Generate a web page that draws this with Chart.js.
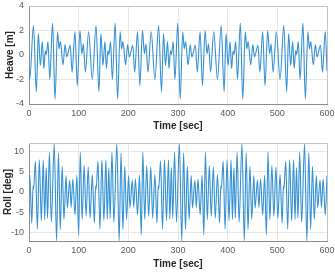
<!DOCTYPE html>
<html><head><meta charset="utf-8">
<script src="https://cdn.jsdelivr.net/npm/chart.js@4/dist/chart.umd.min.js"></script>
<style>
html,body{margin:0;padding:0;background:#fff;}
canvas{position:absolute;left:0;}
</style></head>
<body>
<canvas id="c1" width="335" height="138" style="top:0"></canvas>
<canvas id="c2" width="335" height="138" style="top:138px"></canvas>
<script>
const xTicks = [0,100,200,300,400,500,600];
const heaveTicks = [-4,-2,0,2,4];
const rollTicks = [-10,-5,0,5,10];

const heaveTime = [0,1.5,9,14.8,18.8,22.8,26.9,29.8,33,35,38.2,41.8,47.5,52.4,57.5,60.5,63.2,68.5,72.5,76,78.5,83,86.8,92.5,97.2,102.5,106.5,109.5,113.5,120,
127.5,135,140.8,144.8,148.8,152.9,155.8,159,161,164.2,167.8,173.5,178.4,183.5,186.5,189.2,194.5,198.5,202,204.5,209,212.8,218.5,223.2,228.5,232.5,235.5,239.5,246,
253.5,261,266.8,270.8,274.8,278.9,281.8,285,287,290.2,293.8,299.5,304.4,309.5,312.5,315.2,320.5,324.5,328,330.5,335,338.8,344.5,349.2,354.5,358.5,361.5,365.5,372,
379.5,387,392.8,396.8,400.8,404.9,407.8,411,413,416.2,419.8,425.5,430.4,435.5,438.5,441.2,446.5,450.5,454,456.5,461,464.8,470.5,475.2,480.5,484.5,487.5,491.5,498,
505.5,513,518.8,522.8,526.8,530.9,533.8,537,539,542.2,545.8,551.5,556.4,561.5,564.5,567.2,572.5,576.5,580,582.5,587,590.8,596.5,600];
const heaveValue = [-1.2,-2.0,2.4,-3.0,1.75,-0.85,1.1,-1.1,0.35,0.05,1.1,-2.0,2.6,-3.6,1.9,0.5,1.1,-0.8,0.85,-0.15,0.15,0.8,-1.4,1.9,-2.5,2.0,0.1,0.9,-1.4,1.9,
-2.0,2.4,-3.0,1.75,-0.85,1.1,-1.1,0.35,0.05,1.1,-2.0,2.6,-3.6,1.9,0.5,1.1,-0.8,0.85,-0.15,0.15,0.8,-1.4,1.9,-2.5,2.0,0.1,0.9,-1.4,1.9,
-2.0,2.4,-3.0,1.75,-0.85,1.1,-1.1,0.35,0.05,1.1,-2.0,2.6,-3.6,1.9,0.5,1.1,-0.8,0.85,-0.15,0.15,0.8,-1.4,1.9,-2.5,2.0,0.1,0.9,-1.4,1.9,
-2.0,2.4,-3.0,1.75,-0.85,1.1,-1.1,0.35,0.05,1.1,-2.0,2.6,-3.6,1.9,0.5,1.1,-0.8,0.85,-0.15,0.15,0.8,-1.4,1.9,-2.5,2.0,0.1,0.9,-1.4,1.9,
-2.0,2.4,-3.0,1.75,-0.85,1.1,-1.1,0.35,0.05,1.1,-2.0,2.6,-3.6,1.9,0.5,1.1,-0.8,0.85,-0.15,0.15,0.8,-1.4,1.9,-1.3];

const rollTime = [0,1.5,5.6,8.2,9.2,12.9,16.8,20.8,24.8,28.8,31.6,34.6,37.4,41,45,50.8,55.5,59.3,63,66.8,70.4,74.6,77.2,82,84.8,88.2,92.6,96.4,100,103.2,107,111,115,119.2,123,
127.5,131.6,134.2,135.2,138.9,142.8,146.8,150.8,154.8,157.6,160.6,163.4,167,171,176.8,181.5,185.3,189,192.8,196.4,200.6,203.2,208,210.8,214.2,218.6,222.4,226,229.2,233,237,241,245.2,249,
253.5,257.6,260.2,261.2,264.9,268.8,272.8,276.8,280.8,283.6,286.6,289.4,293,297,302.8,307.5,311.3,315,318.8,322.4,326.6,329.2,334,336.8,340.2,344.6,348.4,352,355.2,359,363,367,371.2,375,
379.5,383.6,386.2,387.2,390.9,394.8,398.8,402.8,406.8,409.6,412.6,415.4,419,423,428.8,433.5,437.3,441,444.8,448.4,452.6,455.2,460,462.8,466.2,470.6,474.4,478,481.2,485,489,493,497.2,501,
505.5,509.6,512.2,513.2,516.9,520.8,524.8,528.8,532.8,535.6,538.6,541.4,545,549,554.8,559.5,563.3,567,570.8,574.4,578.6,581.2,586,588.8,592.2,596.6,600];
const rollValue = [3.0,4.3,-7.6,1.5,0.7,7.6,-9.1,7.9,-7.0,7.9,-6.7,6.0,-6.4,9.7,-7.4,11.8,-11.9,9.6,-9.2,6.3,-6.7,4.0,-3.9,2.9,-3.8,3.2,-5.6,4.1,-10.5,9.8,-6.7,6.5,-5.9,6.1,-6.4,
4.3,-7.6,1.5,0.7,7.6,-9.1,7.9,-7.0,7.9,-6.7,6.0,-6.4,9.7,-7.4,11.8,-11.9,9.6,-9.2,6.3,-6.7,4.0,-3.9,2.9,-3.8,3.2,-5.6,4.1,-10.5,9.8,-6.7,6.5,-5.9,6.1,-6.4,
4.3,-7.6,1.5,0.7,7.6,-9.1,7.9,-7.0,7.9,-6.7,6.0,-6.4,9.7,-7.4,11.8,-11.9,9.6,-9.2,6.3,-6.7,4.0,-3.9,2.9,-3.8,3.2,-5.6,4.1,-10.5,9.8,-6.7,6.5,-5.9,6.1,-6.4,
4.3,-7.6,1.5,0.7,7.6,-9.1,7.9,-7.0,7.9,-6.7,6.0,-6.4,9.7,-7.4,11.8,-11.9,9.6,-9.2,6.3,-6.7,4.0,-3.9,2.9,-3.8,3.2,-5.6,4.1,-10.5,9.8,-6.7,6.5,-5.9,6.1,-6.4,
4.3,-7.6,1.5,0.7,7.6,-9.1,7.9,-7.0,7.9,-6.7,6.0,-6.4,9.7,-7.4,11.8,-11.9,9.6,-9.2,6.3,-6.7,4.0,-3.9,2.9,-3.8,3.2,-5.6,4.0];

const FONT = "'Liberation Sans', Arial, sans-serif";
const LINE = 'rgb(52,145,212)';
const TICK = '#5a5a5a';

const boxPlugin = {
  id:'box',
  afterDraw(chart){
    const {ctx, chartArea:a} = chart;
    ctx.save();
    ctx.strokeStyle = '#c4c4c4';
    ctx.lineWidth = 1;
    ctx.beginPath();
    ctx.moveTo(a.left, a.top+0.5); ctx.lineTo(a.right+0.5, a.top+0.5);
    ctx.lineTo(a.right+0.5, a.bottom);
    ctx.stroke();
    ctx.restore();
  }
};

function pts(t, v){ return t.map((x,i)=>({x:x, y:v[i]})); }

function makeChart(id, t, v, yMin, yMax, yTicks, yTitle, padTop, xH, titlePad){
  return new Chart(document.getElementById(id), {
    type:'line',
    data:{datasets:[{data:pts(t,v), borderColor:LINE, borderWidth:1.1, pointRadius:0, fill:false, cubicInterpolationMode:'monotone'}]},
    options:{
      responsive:false, animation:false, events:[],
      layout:{padding:{left:0,right:8,top:padTop,bottom:0}},
      plugins:{legend:{display:false}, tooltip:{enabled:false}},
      scales:{
        x:{type:'linear', min:0, max:600,
          afterBuildTicks(s){ s.ticks = xTicks.map(x=>({value:x})); },
          ticks:{color:TICK, font:{family:FONT, size:9}, padding:4, maxRotation:0, autoSkip:false},
          grid:{color:'#e6e6e6', drawTicks:false},
          border:{color:'#8c8c8c'},
          title:{display:true, text:'Time [sec]', color:'#262626', font:{family:FONT, size:10, weight:'bold'}, padding:{top:0,bottom:6}},
          afterFit(s){ s.height = xH; s.paddingLeft = 0; s.paddingRight = 0; }
        },
        y:{type:'linear', min:yMin, max:yMax,
          afterBuildTicks(s){ s.ticks = yTicks.map(x=>({value:x})); },
          ticks:{color:TICK, font:{family:FONT, size:9}, padding:5, autoSkip:false},
          grid:{color:'#e6e6e6', drawTicks:false},
          border:{color:'#8c8c8c'},
          title:{display:true, text:yTitle, color:'#262626', font:{family:FONT, size:10, weight:'bold'}, padding:{top:titlePad,bottom:0}},
          afterFit(s){ s.width = 29; s.paddingTop = 0; s.paddingBottom = 0; }
        }
      }
    },
    plugins:[boxPlugin]
  });
}

makeChart('c1', heaveTime, heaveValue, -4, 4, heaveTicks, 'Heave [m]', 6, 34, 4);
makeChart('c2', rollTime, rollValue, -12, 12, rollTicks, 'Roll [deg]', 5, 35, 2);
</script>
</body></html>
